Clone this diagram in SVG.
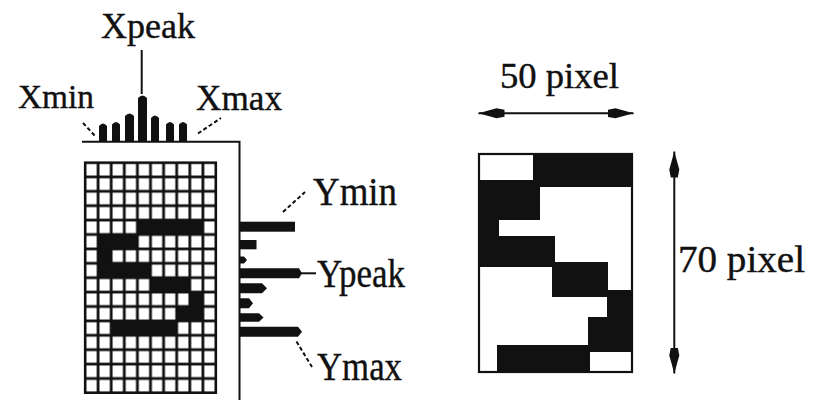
<svg xmlns="http://www.w3.org/2000/svg" width="813" height="405" viewBox="0 0 813 405">
<style>
.t{font-family:"Liberation Serif","Times New Roman",serif;fill:#111;stroke:#111;stroke-width:0.4;}
.ln{stroke:#111;stroke-width:2;fill:none;}
.dash{stroke:#111;stroke-width:2;fill:none;stroke-dasharray:4 2.5;}
.blk{fill:#111;}
</style>
<defs>
<pattern id="cell" patternUnits="userSpaceOnUse" x="85" y="162.5" width="13.1" height="14.4">
<rect x="0" y="0" width="13.1" height="14.4" fill="#111"/>
<rect x="1.4" y="1.4" width="10.3" height="11.6" fill="#fff"/>
</pattern>
<marker id="arr" viewBox="0 -6 27 12" refX="26" refY="0" markerWidth="27" markerHeight="12" markerUnits="userSpaceOnUse" orient="auto-start-reverse">
<path d="M26,0 L8,-5 L0,-3.5 L0,3.5 L8,5 Z" fill="#111"/>
</marker>
</defs>
<rect width="813" height="405" fill="#fff"/>

<g id="character-grid">
<rect x="85" y="162.5" width="131" height="230.4" fill="url(#cell)"/>
<rect x="85" y="162.5" width="131" height="230.4" fill="none" stroke="#111" stroke-width="2.2"/>
<rect class="blk" x="137.4" y="220.1" width="65.5" height="14.4"/>
<rect class="blk" x="98.1" y="234.5" width="39.3" height="14.4"/>
<rect class="blk" x="98.1" y="248.9" width="13.1" height="14.4"/>
<rect class="blk" x="98.1" y="263.3" width="52.4" height="14.4"/>
<rect class="blk" x="150.5" y="277.7" width="39.3" height="14.4"/>
<rect class="blk" x="189.8" y="292.1" width="13.1" height="14.4"/>
<rect class="blk" x="176.7" y="306.5" width="26.2" height="14.4"/>
<rect class="blk" x="111.2" y="320.9" width="65.5" height="14.4"/>
</g>

<g id="axes">
<path class="ln" d="M82,141.8 H239.5 V400" stroke-width="2.4"/>
</g>

<g id="x-histogram">
<path class="blk" d="M99,142 V126 Q103,121 107,126 V142 Z"/>
<path class="blk" d="M112,142 V124.5 Q116,119.5 120,124.5 V142 Z"/>
<path class="blk" d="M125,142 V116 Q129.5,111 134,116 V142 Z"/>
<path class="blk" d="M138,142 V98 Q142.5,93 147,98 V142 Z"/>
<path class="blk" d="M151,142 V118 Q155,113 159,118 V142 Z"/>
<path class="blk" d="M166,142 V124.5 Q170,119.5 174,124.5 V142 Z"/>
<path class="blk" d="M179,142 V124.5 Q183,119.5 187,124.5 V142 Z"/>
</g>

<g id="y-histogram">
<rect class="blk" x="239" y="221.7" width="56" height="10"/>
<rect class="blk" x="239" y="240" width="17.5" height="9.3"/>
<path class="blk" d="M239,256.5 H244 L247,260 L244,263.5 H239 Z"/>
<path class="blk" d="M239,268.3 H299 L302,273.3 L299,278.3 H239 Z"/>
<path class="blk" d="M239,283.3 H262 L267,288.3 L262,293.3 H239 Z"/>
<path class="blk" d="M239,298.3 H249 L253,303.3 L249,308.3 H239 Z"/>
<path class="blk" d="M239,313.3 H259 L263.5,317.5 L259,321.7 H239 Z"/>
<path class="blk" d="M239,326.7 H298 L302,331.7 L298,336.7 H239 Z"/>
</g>

<g id="scaled-image">
<rect class="blk" x="533" y="153" width="99" height="34"/>
<rect class="blk" x="478" y="180" width="62" height="40"/>
<rect class="blk" x="478" y="219" width="21" height="18"/>
<rect class="blk" x="478" y="236" width="77" height="31"/>
<rect class="blk" x="552" y="262" width="56" height="35"/>
<rect class="blk" x="607" y="290" width="25" height="62"/>
<rect class="blk" x="588" y="317" width="44" height="35"/>
<rect class="blk" x="497" y="345" width="93" height="27"/>
<rect x="479" y="154" width="153" height="218" fill="none" stroke="#111" stroke-width="2.2"/>
</g>

<g id="connectors">
<line class="ln" x1="141.7" y1="50" x2="141.7" y2="94"/>
<line class="dash" x1="83" y1="123" x2="96" y2="137"/>
<line class="dash" x1="198" y1="133.5" x2="221" y2="118"/>
<line class="dash" x1="283" y1="212" x2="305" y2="192"/>
<line class="ln" x1="301" y1="273.3" x2="316" y2="273.3"/>
<line class="dash" x1="296.5" y1="341.5" x2="312" y2="367"/>
<line class="ln" x1="478.5" y1="113.3" x2="633.5" y2="113.3" marker-start="url(#arr)" marker-end="url(#arr)"/>
<line class="ln" x1="674.3" y1="151.5" x2="674.3" y2="373.5" marker-start="url(#arr)" marker-end="url(#arr)"/>
</g>

<g id="labels">
<text class="t" x="101" y="38.3" font-size="35" textLength="94" lengthAdjust="spacingAndGlyphs">Xpeak</text>
<text class="t" x="18" y="108.3" font-size="34" textLength="76" lengthAdjust="spacingAndGlyphs">Xmin</text>
<text class="t" x="196" y="110" font-size="35" textLength="86" lengthAdjust="spacingAndGlyphs">Xmax</text>
<text class="t" x="313" y="205" font-size="40" textLength="84" lengthAdjust="spacingAndGlyphs">Ymin</text>
<text class="t" x="317" y="286.5" font-size="40" textLength="88" lengthAdjust="spacingAndGlyphs">Ypeak</text>
<text class="t" x="317" y="380" font-size="40" textLength="85" lengthAdjust="spacingAndGlyphs">Ymax</text>
<text class="t" x="500" y="88.3" font-size="35" textLength="119" lengthAdjust="spacingAndGlyphs">50 pixel</text>
<text class="t" x="678" y="271.7" font-size="37" textLength="127" lengthAdjust="spacingAndGlyphs">70 pixel</text>
</g>
</svg>
